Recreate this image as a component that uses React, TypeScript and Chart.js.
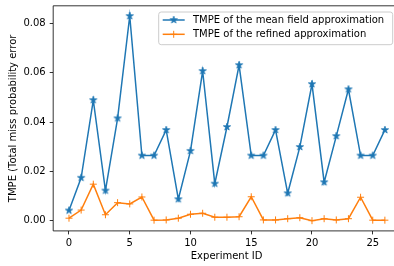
import { useEffect, useRef } from "react";
import { Chart, registerables } from "chart.js";

Chart.register(...registerables);

const experimentIds = [0, 1, 2, 3, 4, 5, 6, 7, 8, 9, 10, 11, 12, 13, 14, 15, 16, 17, 18, 19, 20, 21, 22, 23, 24, 25, 26];
const meanFieldTmpe = [
  0.0041, 0.0174, 0.0489, 0.0122, 0.0415, 0.083, 0.0264, 0.0264, 0.0368, 0.0087,
  0.0283, 0.0607, 0.015, 0.038, 0.0631, 0.0264, 0.0264, 0.0368, 0.0111, 0.0299,
  0.0554, 0.0156, 0.0343, 0.0533, 0.0264, 0.0264, 0.0368,
];
const refinedTmpe = [
  0.001, 0.0043, 0.0148, 0.0024, 0.0073, 0.0068, 0.0096, 0.0002, 0.0003, 0.001,
  0.0026, 0.003, 0.0014, 0.0014, 0.0016, 0.0097, 0.0003, 0.0003, 0.0008, 0.0012,
  0.0, 0.0008, 0.0003, 0.0008, 0.0095, 0.0002, 0.0002,
];
const xTicks = [0, 5, 10, 15, 20, 25];
const yTicks = [0, 0.02, 0.04, 0.06, 0.08];
const seriesLabels = ["TMPE of the mean field approximation", "TMPE of the refined approximation"];
const xAxisTitle = "Experiment ID";
const yAxisTitle = "TMPE (Total miss probability error";

const BLUE = "#1f77b4";
const ORANGE = "#ff7f0e";
const FONT = "'DejaVu Sans', sans-serif";

function makeStar(color: string, r: number): HTMLCanvasElement {
  const c = document.createElement("canvas");
  const s = Math.ceil(r * 2 + 2);
  c.width = s;
  c.height = s;
  const ctx = c.getContext("2d")!;
  ctx.beginPath();
  for (let i = 0; i < 10; i++) {
    const rad = i % 2 === 0 ? r : r * 0.382;
    const a = -Math.PI / 2 + (i * Math.PI) / 5;
    ctx.lineTo(s / 2 + rad * Math.cos(a), s / 2 + rad * Math.sin(a));
  }
  ctx.closePath();
  ctx.fillStyle = color;
  ctx.fill();
  ctx.strokeStyle = color;
  ctx.lineWidth = 0.8;
  ctx.stroke();
  return c;
}

export default function App() {
  const ref = useRef<HTMLCanvasElement | null>(null);

  useEffect(() => {
    const canvas = ref.current;
    if (!canvas) return;
    const star = makeStar(BLUE, 3.8);

    const spinesAndLegend = {
      id: "spinesAndLegend",
      afterDatasetsDraw(chart: any) {
        const { ctx, chartArea } = chart;
        const { left, right, top, bottom } = chartArea;
        ctx.save();
        ctx.strokeStyle = "#000";
        ctx.lineWidth = 0.8;
        ctx.beginPath();
        ctx.moveTo(right + 1, bottom);
        ctx.lineTo(left, bottom);
        ctx.lineTo(left, top);
        ctx.lineTo(right + 1, top);
        ctx.stroke();

        // x axis title (axes centre lies beyond the cropped right edge)
        ctx.fillStyle = "#000";
        ctx.font = `10px ${FONT}`;
        ctx.textBaseline = "middle";
        ctx.textAlign = "center";
        ctx.fillText(xAxisTitle, 226.6, 256.2);

        // legend
        const bx = 158.7, by = 12, bw = 234, bh = 32.7, r = 2.5;
        ctx.beginPath();
        ctx.moveTo(bx + r, by);
        ctx.lineTo(bx + bw - r, by);
        ctx.quadraticCurveTo(bx + bw, by, bx + bw, by + r);
        ctx.lineTo(bx + bw, by + bh - r);
        ctx.quadraticCurveTo(bx + bw, by + bh, bx + bw - r, by + bh);
        ctx.lineTo(bx + r, by + bh);
        ctx.quadraticCurveTo(bx, by + bh, bx, by + bh - r);
        ctx.lineTo(bx, by + r);
        ctx.quadraticCurveTo(bx, by, bx + r, by);
        ctx.closePath();
        ctx.fillStyle = "rgba(255,255,255,0.8)";
        ctx.fill();
        ctx.strokeStyle = "#cccccc";
        ctx.lineWidth = 1;
        ctx.stroke();

        const rows = [20, 34.3];
        const colors = [BLUE, ORANGE];
        const lx0 = 162.7, lx1 = 184.7, mx = (lx0 + lx1) / 2;
        rows.forEach((ry, i) => {
          ctx.strokeStyle = colors[i];
          ctx.lineWidth = 1.5;
          ctx.beginPath();
          ctx.moveTo(lx0, ry);
          ctx.lineTo(lx1, ry);
          ctx.stroke();
          if (i === 0) {
            ctx.drawImage(star, mx - star.width / 2, ry - star.height / 2);
          } else {
            ctx.lineWidth = 1;
            ctx.beginPath();
            ctx.moveTo(mx - 3.5, ry);
            ctx.lineTo(mx + 3.5, ry);
            ctx.moveTo(mx, ry - 3.5);
            ctx.lineTo(mx, ry + 3.5);
            ctx.stroke();
          }
          ctx.fillStyle = "#000";
          ctx.font = `10px ${FONT}`;
          ctx.textBaseline = "middle";
          ctx.textAlign = "left";
          ctx.fillText(seriesLabels[i], 193, ry);
        });
        ctx.restore();
      },
    };

    const chart = new Chart(canvas, {
      type: "line",
      data: {
        datasets: [
          {
            label: seriesLabels[0],
            data: experimentIds.map((x, i) => ({ x, y: meanFieldTmpe[i] })),
            borderColor: BLUE,
            backgroundColor: BLUE,
            borderWidth: 1.5,
            pointStyle: star as any,
            pointRadius: 4,
            tension: 0,
            order: 1,
          },
          {
            label: seriesLabels[1],
            data: experimentIds.map((x, i) => ({ x, y: refinedTmpe[i] })),
            borderColor: ORANGE,
            backgroundColor: ORANGE,
            borderWidth: 1.5,
            pointStyle: "cross",
            pointRadius: 3.5,
            pointBorderWidth: 1,
            pointBorderColor: ORANGE,
            tension: 0,
            order: 0,
          },
        ],
      },
      options: {
        animation: false,
        responsive: false,
        maintainAspectRatio: false,
        layout: { autoPadding: false, padding: { left: 0, right: 0, top: 5.8, bottom: 0 } },
        plugins: { legend: { display: false }, tooltip: { enabled: false } },
        scales: {
          x: {
            type: "linear",
            min: -1.3,
            max: 26.75,
            afterFit(scale: any) {
              scale.height = 35.1;
              scale.paddingLeft = 0;
              scale.paddingRight = 0;
            },
            afterBuildTicks(scale: any) {
              scale.ticks = xTicks.map((v) => ({ value: v }));
            },
            border: { display: false },
            grid: {
              drawOnChartArea: false,
              drawTicks: true,
              tickLength: 3.5,
              tickColor: "#000",
              lineWidth: 0.8,
            },
            ticks: {
              color: "#000",
              font: { family: FONT, size: 10 },
              padding: 3,
              maxRotation: 0,
              callback: (v: any) => String(v),
            },
            title: { display: false },
          },
          y: {
            type: "linear",
            min: -0.00415,
            max: 0.08715,
            afterFit(scale: any) {
              scale.width = 53.2;
              scale.paddingTop = 0;
              scale.paddingBottom = 0;
            },
            afterBuildTicks(scale: any) {
              scale.ticks = yTicks.map((v) => ({ value: v }));
            },
            border: { display: false },
            grid: {
              drawOnChartArea: false,
              drawTicks: true,
              tickLength: 3.5,
              tickColor: "#000",
              lineWidth: 0.8,
            },
            ticks: {
              color: "#000",
              font: { family: FONT, size: 10 },
              padding: 4,
              callback: (v: any) => Number(v).toFixed(2),
            },
            title: {
              display: true,
              text: yAxisTitle,
              color: "#000",
              font: { family: FONT, size: 10 },
              padding: { top: 7, bottom: 4 },
            },
          },
        },
      },
      plugins: [spinesAndLegend],
    });

    return () => chart.destroy();
  }, []);

  return (
    <div style={{ position: "fixed", left: 0, top: 0, width: 394, height: 266, overflow: "hidden", background: "#fff" }}>
      <canvas ref={ref} width={394} height={266} style={{ display: "block", width: 394, height: 266 }} />
    </div>
  );
}
